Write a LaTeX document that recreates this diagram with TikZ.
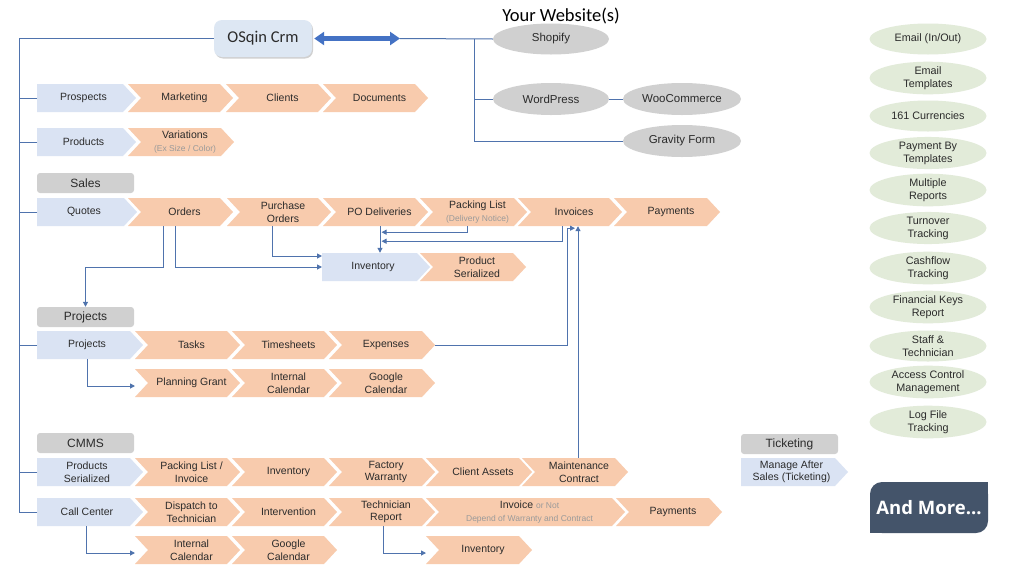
\documentclass[tikz,border=0pt]{standalone}
\usepackage{fontspec}
\setmainfont{Liberation Sans}
\newfontfamily\calfont{Carlito}
\newfontfamily\morefont{Open Sans}
\usetikzlibrary{arrows.meta,shapes.geometric,shadows,calc}
\definecolor{txt}{HTML}{2B2B2B}
\definecolor{chblue}{HTML}{DAE3F3}
\definecolor{chorange}{HTML}{F8CBAD}
\definecolor{hdrgray}{HTML}{D0D0D0}
\definecolor{ellgray}{HTML}{D0D0D0}
\definecolor{ellgreen}{HTML}{E2EBD9}
\definecolor{conn}{HTML}{4F73AD}
\definecolor{bigblue}{HTML}{4472C4}
\definecolor{slate}{HTML}{44546A}
\definecolor{smallgray}{HTML}{9A9A9A}
\definecolor{crmfill}{HTML}{DDE7F3}
\newcommand{\sm}[1]{{\fontsize{8.5}{10}\selectfont\color{smallgray}#1}}
\tikzset{
  lbl/.style={font=\fontsize{10.5}{12.5}\selectfont, text=txt, align=center, inner sep=0pt},
  hdr/.style={rectangle, rounded corners=3pt, fill=hdrgray, minimum width=97pt, minimum height=20pt, inner sep=0pt, font=\fontsize{12}{14}\selectfont, text=txt},
  webell/.style={ellipse, fill=ellgray, minimum width=116pt, minimum height=31pt, inner sep=0pt, font=\fontsize{11.5}{13}\selectfont, text=txt},
  grnell/.style={ellipse, fill=ellgreen, minimum width=117pt, minimum height=31pt, inner sep=0pt, font=\fontsize{10.8}{13}\selectfont, text=txt, align=center},
  link/.style={draw=conn, line width=1pt},
  arr/.style={link, -{Triangle[length=5pt,width=5pt]}},
}
\newcommand{\chevB}[5]{%
  \fill[chblue] (#2,#4-14) -- (#3-13,#4-14) -- (#3,#4) -- (#3-13,#4+14) -- (#2,#4+14) -- cycle;
  \coordinate (#1W) at (#2,#4);
  \coordinate (#1E) at (#3,#4);
  \node[lbl, minimum height=28pt] (#1) at ({(#2+#3)/2-3},#4) {#5};
}
\newcommand{\chevO}[5]{%
  \fill[chorange] (#2,#4-14) -- (#3-13,#4-14) -- (#3,#4) -- (#3-13,#4+14) -- (#2,#4+14) -- (#2+13,#4) -- cycle;
  \coordinate (#1W) at (#2,#4);
  \coordinate (#1E) at (#3,#4);
  \node[lbl, minimum height=28pt] (#1) at ({(#2+#3)/2+4},#4) {#5};
}
\begin{document}
\begin{tikzpicture}[x=1pt,y=-1pt]
\useasboundingbox[fill=white] (0,0) rectangle (1024,576);

% top
\node[rounded corners=8pt, fill=crmfill, minimum width=98pt, minimum height=37pt, inner sep=0pt,
      drop shadow={shadow xshift=1pt, shadow yshift=-1.5pt, fill=black!30, opacity=0.6},
      font=\calfont\fontsize{16.5}{18}\selectfont, text=txt] (crm) at (263,38.5) {OSqin Crm};
\node[font=\calfont\fontsize{18.5}{20}\selectfont, text=black, inner sep=0pt] (webtitle) at (561,16) {Your Website(s)};
\node[webell] (shopify) at (551,39) {Shopify};
\node[webell, minimum height=32pt] (wordpress) at (551,99) {WordPress};
\node[webell, minimum width=118pt, minimum height=32pt] (woo) at (682,99) {WooCommerce};
\node[webell, minimum width=118pt, minimum height=32pt] (gravity) at (682,141) {Gravity Form};

% row 1, 2
\chevB{prospects}{37}{136}{98}{Prospects}
\chevO{marketing}{128}{233}{98}{Marketing}
\chevO{clients}{226}{331}{98}{Clients}
\chevO{documents}{323}{428}{98}{Documents}
\chevB{products}{37}{136}{142}{Products}
\chevO{variations}{128}{234}{142}{Variations\\\sm{(Ex Size / Color)}}

% sales
\node[hdr] (saleshdr) at (85.5,183) {Sales};
\chevB{quotes}{37}{137}{212}{Quotes}
\chevO{orders}{128}{233}{212}{Orders}
\chevO{purchase}{227}{331}{212}{Purchase\\Orders}
\chevO{podel}{323}{428}{212}{PO Deliveries}
\chevO{packing}{420}{527}{212}{Packing List\\\sm{(Delivery Notice)}}
\chevO{invoices}{518}{622}{212}{Invoices}
\chevO{payments}{614}{720}{212}{Payments}
\chevB{inventory}{322}{430}{267}{Inventory}
\chevO{pserial}{420}{526}{267}{Product\\Serialized}

% projects
\node[hdr] (projhdr) at (85.5,317) {Projects};
\chevB{projects}{37}{143}{345}{Projects}
\chevO{tasks}{135}{240}{345}{Tasks}
\chevO{timesheets}{232}{337}{345}{Timesheets}
\chevO{expenses}{329}{435}{345}{Expenses}
\chevO{planning}{135}{240}{383}{Planning Grant}
\chevO{icalA}{232}{337}{383}{Internal\\Calendar}
\chevO{gcalA}{329}{435}{383}{Google\\Calendar}

% cmms
\node[hdr] (cmmshdr) at (85.5,443) {CMMS};
\chevB{prodser}{37}{143}{472}{Products\\Serialized}
\chevO{packinv}{135}{240}{472}{Packing List /\\Invoice}
\chevO{invB}{232}{337}{472}{Inventory}
\chevO{factory}{329}{435}{472}{Factory\\Warranty}
\chevO{assets}{426}{532}{472}{Client Assets}
\chevO{maint}{522}{628}{472}{Maintenance\\Contract}
\chevB{callcenter}{37}{143}{512}{Call Center}
\chevO{dispatch}{135}{240}{512}{Dispatch to\\Technician}
\chevO{intervention}{232}{337}{512}{Intervention}
\chevO{techrep}{329}{435}{512}{Technician\\Report}
\chevO{invoiceB}{426}{625}{512}{Invoice \sm{or Not}\\\sm{Depend of Warranty and Contract}}
\chevO{paymentsB}{616}{722}{512}{Payments}
\chevO{icalB}{135}{240}{550}{Internal\\Calendar}
\chevO{gcalB}{232}{337}{550}{Google\\Calendar}
\chevO{invC}{426}{532}{550}{Inventory}

% ticketing
\node[hdr] (tickhdr) at (789.5,444) {Ticketing};
\chevB{ticket}{741}{848}{472}{Manage After\\Sales (Ticketing)}

% right column
\node[grnell] (e1) at (928,39) {Email (In/Out)};
\node[grnell] (e2) at (928,78) {Email\\Templates};
\node[grnell] (e3) at (928,116) {161 Currencies};
\node[grnell] (e4) at (928,153) {Payment By\\Templates};
\node[grnell] (e5) at (928,190) {Multiple\\Reports};
\node[grnell] (e6) at (928,228) {Turnover\\Tracking};
\node[grnell] (e7) at (928,268) {Cashflow\\Tracking};
\node[grnell] (e8) at (928,307) {Financial Keys\\Report};
\node[grnell] (e9) at (928,346) {Staff \&\\Technician};
\node[grnell] (e10) at (928,382) {Access Control\\Management};
\node[grnell] (e11) at (928,422) {Log File\\Tracking};

\node[fill=slate, rounded corners=12pt, minimum width=118pt, minimum height=51pt, inner sep=0pt,
      font=\morefont\bfseries\fontsize{18.5}{20}\selectfont, text=white] (more) at (929,507.5) {And More...};
\fill[slate] (more.north east) rectangle ++(-15,15);
\fill[slate] (more.south west) rectangle ++(15,-15);

% website links
\coordinate (arrR) at (400,38.5);
\coordinate (bus) at (474,38.5);
\draw[bigblue, line width=5pt, {Triangle[length=10pt,width=13pt]}-{Triangle[length=10pt,width=13pt]}] ([xshift=2pt]crm.east) -- (arrR);
\draw[link] (arrR) -- (shopify.west);
\draw[link] (bus) |- (gravity.west);
\draw[link] (bus |- wordpress.west) -- (wordpress.west);
\draw[link] (wordpress.east) -- (woo.west);

% trunk
\coordinate (trunk) at (19,38.5);
\draw[link] (crm.west) -- (trunk) -- (trunk |- callcenterW);
\draw[link] (prospectsW) -- (prospectsW -| trunk);
\draw[link] (productsW) -- (productsW -| trunk);
\draw[link] (quotesW) -- (quotesW -| trunk);
\draw[link] (projectsW) -- (projectsW -| trunk);
\draw[link] (prodserW) -- (prodserW -| trunk);
\draw[link] (callcenterW) -- (callcenterW -| trunk);

% sales links
\draw[arr] ([xshift=-21.5pt]orders.south) -- ++(0,41) -| (projhdr.north);
\draw[arr] ([xshift=-9.5pt]orders.south) |- (inventoryW);
\draw[arr] ([xshift=-11pt]purchase.south) |- ([yshift=11pt]inventoryW);
\coordinate (pdx) at ([xshift=0.5pt]podel.south);
\draw[arr] (pdx) -- (pdx |- inventory.north);
\draw[arr] ([xshift=-10.5pt]packing.south) |- ($(pdx)+(1.5,6)$);
\draw[arr] ([xshift=-12pt]invoices.south) |- ($(pdx)+(1.5,15)$);
\coordinate (invin) at ([xshift=1pt,yshift=-2pt]invoices.south);
\draw[arr] (expensesE) -| ([xshift=-8pt]invin) -- (invin);
\coordinate (mc) at ([xshift=-1pt]maint.north);
\draw[arr] (mc) -- (mc |- invoices.south);

% projects / cmms links
\draw[arr] (projects.south) |- ([yshift=-3pt]planningW);
\draw[arr] ([xshift=-1pt]callcenter.south) |- ([yshift=-3pt]icalBW);
\draw[arr] ([xshift=-3pt]techrep.south) |- ([yshift=-3pt]invCW);
\end{tikzpicture}
\end{document}
